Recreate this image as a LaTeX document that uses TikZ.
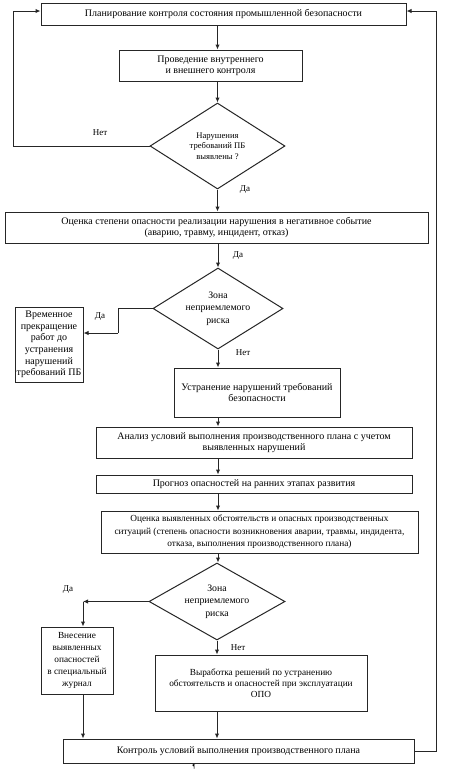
\documentclass[tikz,border=0pt]{standalone}
\usepackage{fontspec}
\setmainfont{Liberation Serif}
\usetikzlibrary{shapes.geometric,arrows.meta}
\begin{document}
\begin{tikzpicture}[x=1pt,y=-1pt,
  box/.style={draw=black!85,line width=1pt,rectangle,inner sep=1pt,align=center,font=\fontsize{10}{11}\selectfont},
  dia/.style={draw=black!85,line width=1pt,diamond,aspect=1.7,inner sep=0pt,align=center,font=\fontsize{8.6}{10.5}\selectfont},
  dia2/.style={dia,font=\fontsize{9.8}{12.3}\selectfont},
  arr/.style={draw=black!85,line width=1pt,-{Latex[length=5pt,width=4.5pt]}},
  ln/.style={draw=black!85,line width=1pt},
  lbl/.style={font=\fontsize{9}{10}\selectfont,inner sep=0pt}]
\useasboundingbox (0,0) rectangle (449,772);
\fill[white] (0,0) rectangle (449,772);

\node[box,minimum width=365pt,minimum height=22pt] (b1) at (223.5,14) {Планирование контроля состояния промышленной безопасности};
\node[box,minimum width=183pt,minimum height=31pt] (b2) at (210.5,65.5) {Проведение внутреннего\\и внешнего контроля};
\node[dia,minimum width=135pt,minimum height=86pt] (d1) at (217.5,146) {Нарушения\\требований ПБ\\выявлены ?};
\node[box,minimum width=423pt,minimum height=31pt] (b3) at (216.5,227.5) {Оценка степени опасности реализации нарушения в негативное событие\\(аварию, травму, инцидент, отказ)};
\node[dia2,minimum width=130pt,minimum height=81pt] (d2) at (218,308.5) {Зона\\неприемлемого\\риска};
\node[box,minimum width=68pt,minimum height=75pt,font=\fontsize{10}{11.7}\selectfont,inner sep=0pt] (b4) at (49,344.5) {Временное\\прекращение\\работ до\\устранения\\нарушений\\требований ПБ};
\node[box,minimum width=166pt,minimum height=49pt] (b5) at (257,392.5) {Устранение нарушений требований\\безопасности};
\node[box,minimum width=316pt,minimum height=31pt] (b6) at (254,442.5) {Анализ условий выполнения производственного плана с учетом\\выявленных нарушений};
\node[box,minimum width=316pt,minimum height=18pt] (b7) at (254,484) {Прогноз опасностей на ранних этапах развития};
\node[box,minimum width=317pt,minimum height=42pt,font=\fontsize{9.3}{12.5}\selectfont] (b8) at (259.5,532) {Оценка выявленных обстоятельств и опасных производственных\\ситуаций (степень опасности возникновения аварии, травмы, индидента,\\отказа, выполнения производственного плана)};
\node[dia2,minimum width=136pt,minimum height=77pt] (d3) at (217,601.5) {Зона\\неприемлемого\\риска};
\node[box,minimum width=72pt,minimum height=67pt,font=\fontsize{9.3}{12}\selectfont] (b9) at (77,660.5) {Внесение\\выявленных\\опасностей\\в специальный\\журнал};
\node[box,minimum width=212pt,minimum height=56pt,font=\fontsize{9.3}{11}\selectfont] (b10) at (261,683) {Выработка решений по устранению\\обстоятельств и опасностей при эксплуатации\\ОПО};
\node[box,minimum width=351pt,minimum height=24pt] (b11) at (238.5,751) {Контроль условий выполнения производственного плана};
\node[font=\fontsize{6}{6}\selectfont,inner sep=0pt] (pm) at (194,767) {¶};

\coordinate (lt) at (13,11);
\coordinate (rt) at (436,11);
\coordinate (c2) at (118,333);
\coordinate (c3) at (83,601.5);

\draw[arr] (b1.south -| d1.north) -- (b2.north -| d1.north);
\draw[arr] (b2.south -| d1.north) -- (d1.north);
\draw[arr] (d1.south) -- (b3.north -| d1.south);
\draw[ln] (d1.west) -| (lt);
\draw[arr] (lt) -- (lt -| b1.west);
\draw[arr] (b3.south -| d2.north) -- (d2.north);
\draw[ln] (d2.west) -| (c2);
\draw[arr] (c2) -- (c2 -| b4.east);
\draw[arr] (d2.south) -- (b5.north -| d2.south);
\draw[arr] (b5.south -| d2.south) -- (b6.north -| d2.south);
\draw[arr] (b6.south -| d2.south) -- (b7.north -| d2.south);
\draw[arr] (b7.south -| d2.south) -- (b8.north -| d2.south);
\draw[arr] (b8.south -| d2.south) -- (d3.north -| d2.south);
\draw[arr] (d3.west) -- (c3);
\draw[arr] (c3) -- (b9.north -| c3);
\draw[arr] (d3.south) -- (b10.north -| d3.south);
\draw[arr] (b9.south -| c3) -- (b11.north -| c3);
\draw[arr] (b10.south -| d3.south) -- (b11.north -| d3.south);
\draw[ln] (b11.east) -| (rt);
\draw[arr] (rt) -- (rt -| b1.east);

\node[lbl] at (100,133) {Нет};
\node[lbl] at (245,190) {Да};
\node[lbl] at (238,256) {Да};
\node[lbl] at (100,317) {Да};
\node[lbl] at (243,353) {Нет};
\node[lbl] at (68,590) {Да};
\node[lbl] at (238,648) {Нет};
\end{tikzpicture}
\end{document}
